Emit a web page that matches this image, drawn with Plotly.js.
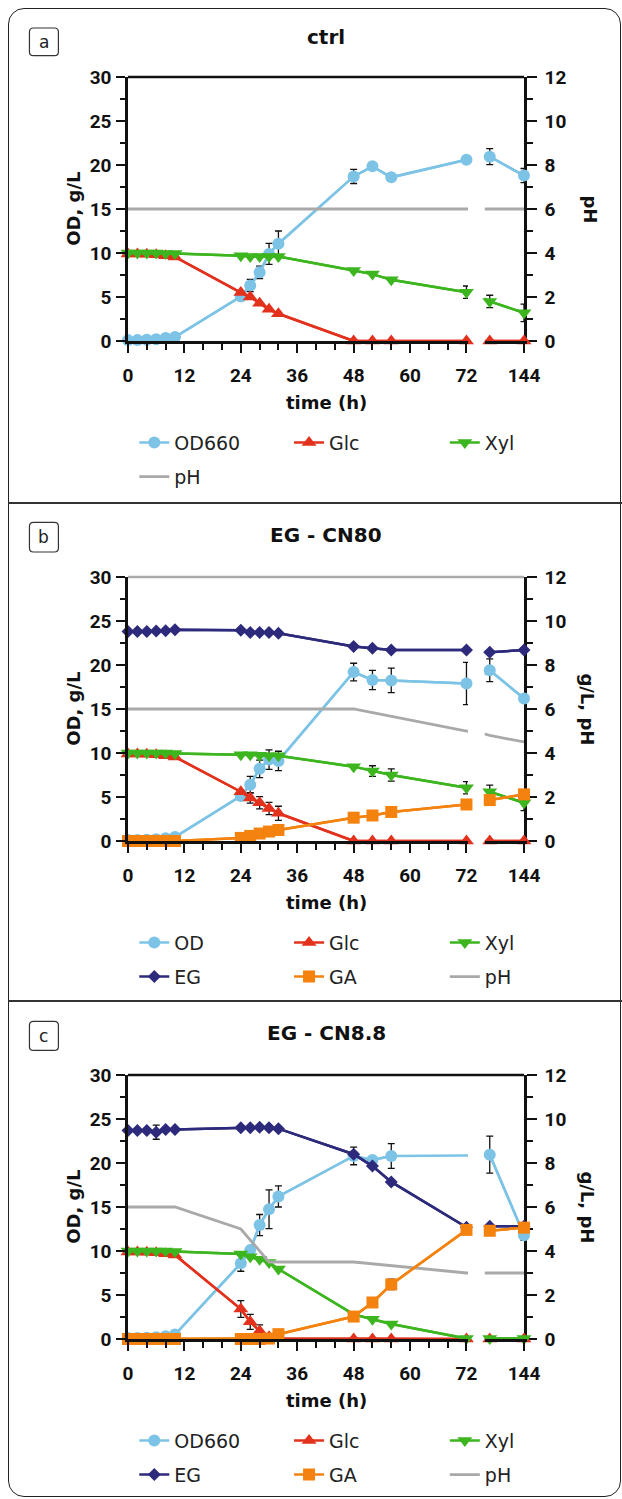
<!DOCTYPE html>
<html><head><meta charset="utf-8">
<script src="https://cdn.plot.ly/plotly-3.0.1.min.js"></script>
<style>
html,body{margin:0;padding:0;background:#fff;}
#wrap{position:relative;width:622px;height:1499px;overflow:hidden;background:#fff;}
.panel{position:absolute;left:0;width:622px;}
.frame{position:absolute;left:8px;top:8px;width:613px;height:1489px;border:1.6px solid #222;border-radius:16px;box-sizing:border-box;pointer-events:none;}
.sep{position:absolute;left:8px;width:614px;height:2px;background:#333;pointer-events:none;}
</style></head><body>
<div id="wrap">
<div id="pa" class="panel" style="top:0px;height:500px"></div>
<div id="pb" class="panel" style="top:500px;height:498px"></div>
<div id="pc" class="panel" style="top:998px;height:501px"></div>
<div class="frame"></div>
<div class="sep" style="top:502px"></div>
<div class="sep" style="top:1000px"></div>
</div>
<script>
// ---------------- DATA ----------------
const time_h    = [0, 2, 4, 6, 8, 10, 24, 26, 28, 30, 32, 48, 52, 56, 72, 96, 144];
const ph_time_h = [0, 10, 24, 30, 48, 72, 96, 144];
const seg1_ticks = [0, 12, 24, 36, 48, 60, 72];
const seg2_ticks = [144];

// panel a : ctrl  (left axis: OD, g/L ; right axis: pH)
const ctrl_OD      = [0.1, 0.1, 0.15, 0.2, 0.35, 0.45, 5.05, 6.3, 7.8, 9.9, 11.05, 18.7, 19.85, 18.6, 20.6, 20.95, 18.8];
const ctrl_OD_err  = [null, null, null, null, null, null, null, 0.7, 0.7, 1.2, 1.45, 0.8, null, null, null, 0.9, 0.8];
const ctrl_Glc     = [9.9, 9.9, 9.85, 9.8, 9.7, 9.55, 5.5, 5.0, 4.3, 3.6, 3.1, 0, 0, 0, 0, 0, 0];
const ctrl_Xyl     = [10, 10, 10, 10, 9.95, 9.95, 9.7, 9.6, 9.6, 9.6, 9.6, 8.0, 7.6, 6.95, 5.55, 4.5, 3.2];
const ctrl_Xyl_err = [null, null, null, null, null, null, null, null, null, null, null, null, null, null, 0.7, 0.7, 1.0];
const ctrl_pH      = [6, 6, 6, 6, 6, 6, 6, 6];

// panel b : EG - CN80  (EG, GA and pH on right axis)
const cn80_OD      = [0.1, 0.1, 0.15, 0.2, 0.3, 0.45, 5.1, 6.4, 8.2, 9.25, 9.1, 19.2, 18.3, 18.25, 17.9, 19.4, 16.2];
const cn80_OD_err  = [null, null, null, null, null, null, null, 0.95, 1.0, 1.1, 1.1, 1.0, 1.1, 1.4, 2.4, 1.3, null];
const cn80_Glc     = [9.9, 9.9, 9.85, 9.8, 9.7, 9.55, 5.6, 4.9, 4.35, 3.7, 3.15, 0, 0, 0, 0, 0, 0];
const cn80_Glc_err = [null, null, null, null, null, null, null, 0.6, 0.7, 0.7, 0.8, null, null, null, null, null, null];
const cn80_Xyl     = [10, 10, 10, 10, 10, 9.95, 9.8, 9.8, 9.75, 9.7, 9.7, 8.45, 7.95, 7.5, 6.05, 5.6, 4.35];
const cn80_Xyl_err = [null, null, null, null, null, null, null, null, null, null, null, null, 0.6, 0.7, 0.7, 0.75, 0.9];
const cn80_EG      = [9.52, 9.52, 9.52, 9.54, 9.56, 9.6, 9.58, 9.48, 9.48, 9.48, 9.44, 8.84, 8.76, 8.68, 8.68, 8.58, 8.68];
const cn80_GA      = [0, 0, 0, 0, 0, 0, 0.14, 0.23, 0.34, 0.43, 0.5, 1.06, 1.16, 1.32, 1.66, 1.86, 2.12];
const cn80_GA_err  = [null, null, null, null, null, null, null, null, null, null, null, null, null, null, null, 0.15, 0.18];
const cn80_pH      = [6, 6, 6, 6, 6, 5.0, 4.8, 4.5];

// panel c : EG - CN8.8
const cn88_OD      = [0.1, 0.1, 0.15, 0.2, 0.3, 0.5, 8.6, 10.1, 12.95, 14.75, 16.2, 20.8, 20.35, 20.8, null, 20.95, 11.8];
const cn88_OD_err  = [null, null, null, null, null, null, 0.9, null, 1.2, 2.2, 1.2, 1.0, null, 1.4, null, 2.1, 0.6];
const cn88_Glc     = [9.9, 9.9, 9.85, 9.8, 9.7, 9.55, 3.4, 1.95, 0.9, 0.25, 0.05, 0, 0, 0, 0, 0, 0];
const cn88_Glc_err = [null, null, null, null, null, null, 0.95, 0.85, 0.7, null, null, null, null, null, null, null, null];
const cn88_Xyl     = [10, 10, 10, 10, 10, 9.95, 9.65, 9.35, 9.05, 8.7, 7.95, 2.8, 2.25, 1.7, 0.05, 0.05, 0.05];
const cn88_EG      = [9.48, 9.48, 9.48, 9.4, 9.52, 9.52, 9.6, 9.6, 9.62, 9.6, 9.56, 8.4, 7.86, 7.14, 5.08, 5.12, 5.12];
const cn88_EG_err  = [null, null, null, 0.32, null, null, null, null, null, null, null, null, null, null, null, null, null];
const cn88_GA      = [0, 0, 0, 0, 0, 0, 0, 0, 0, 0.02, 0.22, 1.02, 1.66, 2.48, 4.96, 4.92, 5.06];
const cn88_GA_err  = [null, null, null, null, null, null, null, null, null, null, null, null, null, 0.24, null, null, null];
const cn88_pH      = [6, 6, 5.0, 3.5, 3.5, 3.0, 3.0, 3.0];

// ---------------- STYLE ----------------
const C = {OD:'#7cc3e6', Glc:'#e2321d', Xyl:'#3db51f', EG:'#2d2a7b', GA:'#f4820f', pH:'#a9a9a9'};
const L = 127.7, T = 77.3, W = 396.6, H = 264;
const px2x = p => (p - L) / W;
const py2y = p => 1 - (p - T) / H;
const SEG1_END = 72.3, SEG2_START = 89;
const d1 = px2x(468.1), d2 = px2x(485);
const LW = 2.5;
const TICKFONT = {family:'Roboto, Arial, sans-serif', size:19, color:'#111', weight:700};
const TITLEFONT = {family:'DejaVu Sans, Arial, sans-serif', size:18, color:'#111', weight:700};
const LEGFONT = {family:'DejaVu Sans, Arial, sans-serif', size:19, color:'#222'};

function segIdx(t, seg){
  const out = [];
  t.forEach((v,i)=>{ if(seg===1 ? v <= 72 : v >= SEG2_START) out.push(i); });
  return out;
}
const pick = (a, idx) => idx.map(i => a[i]);
const nanify = a => a.map(v => v == null ? NaN : v);

function seriesTraces(s){
  const tr = [];
  const yax = s.right ? 'y2' : 'y';
  ['x','x2'].forEach((xa,k)=>{
    tr.push({x:s.t, y:s.v, xaxis:xa, yaxis:yax, type:'scatter', mode:'lines', connectgaps:true,
      line:{color:s.color, width:s.symbol ? LW : 2.8}, hoverinfo:'skip', name:s.name,
      showlegend: (!s.symbol && k===0), legend:s.legend});
  });
  if(s.symbol){
    [1,2].forEach(seg=>{
      const idx = segIdx(s.t, seg);
      const o = {x:pick(s.t,idx), y:pick(s.v,idx), xaxis: seg===1?'x':'x2', yaxis:yax,
        type:'scatter', mode:'lines+markers', name:s.name, connectgaps:true,
        line:{color:s.color, width:LW},
        marker:{symbol:s.symbol, size:s.size, color:s.color, line:{width:0}},
        cliponaxis:false, showlegend: seg===1, legend:s.legend, hoverinfo:'x+y'};
      if(s.err) o.error_y = {type:'data', array:nanify(pick(s.err,idx)), visible:true,
        color:'#111', thickness:1.3, width:3.5};
      tr.push(o);
    });
  }
  return tr;
}

function roundRect(x0,y0,x1,y1,r){
  const X = px2x, Y = py2y;
  return 'M'+X(x0+r)+','+Y(y0)+' L'+X(x1-r)+','+Y(y0)+' Q'+X(x1)+','+Y(y0)+' '+X(x1)+','+Y(y0+r)+
    ' L'+X(x1)+','+Y(y1-r)+' Q'+X(x1)+','+Y(y1)+' '+X(x1-r)+','+Y(y1)+
    ' L'+X(x0+r)+','+Y(y1)+' Q'+X(x0)+','+Y(y1)+' '+X(x0)+','+Y(y1-r)+
    ' L'+X(x0)+','+Y(y0+r)+' Q'+X(x0)+','+Y(y0)+' '+X(x0+r)+','+Y(y0)+' Z';
}

const axBase = {showline:true, linecolor:'#111', linewidth:2.5, ticks:'outside', tickcolor:'#111',
  tickwidth:2.2, showgrid:false, zeroline:false, tickfont:TICKFONT, fixedrange:true};

function legendAt(col, row){
  const cols = [134, 289, 445], rows = [443, 477];
  return {x:px2x(cols[col]), y:py2y(rows[row]), xanchor:'left', yanchor:'middle',
    bgcolor:'rgba(0,0,0,0)', borderwidth:0, font:LEGFONT, itemclick:false, itemdoubleclick:false};
}

function makeLayout(p){
  const lay = {
    width:622, height:p.h,
    margin:{l:L, r:622-L-W, t:T, b:p.h-T-H, pad:0, autoexpand:false},
    paper_bgcolor:'rgba(0,0,0,0)', plot_bgcolor:'rgba(0,0,0,0)',
    showlegend:true, hovermode:'closest',
    xaxis:Object.assign({}, axBase, {domain:[0,d1], range:[0,SEG1_END], tickmode:'array', tickvals:seg1_ticks,
      ticklen:9, anchor:'y', ticklabelstandoff:6,
      minor:{tick0:0, dtick:4, ticks:'outside', ticklen:6, tickwidth:2, tickcolor:'#111', showgrid:false}}),
    xaxis2:Object.assign({}, axBase, {domain:[d2,1], range:[SEG2_START,144], tickmode:'array', tickvals:seg2_ticks,
      ticklen:9, anchor:'y', ticklabelstandoff:6}),
    yaxis:Object.assign({}, axBase, {range:[0,30], tick0:0, dtick:5, ticklen:9, anchor:'x', ticklabelstandoff:1,
      minor:{tick0:0, dtick:2.5, ticks:'outside', ticklen:5, tickwidth:2, tickcolor:'#111', showgrid:false}}),
    yaxis2:Object.assign({}, axBase, {range:[0,12], tick0:0, dtick:2, ticklen:10, anchor:'x2', overlaying:'y', side:'right',
      ticklabelstandoff:4,
      minor:{tick0:0, dtick:1, ticks:'outside', ticklen:6, tickwidth:2, tickcolor:'#111', showgrid:false}}),
    shapes:[
      {type:'line', xref:'paper', yref:'paper', x0:0, x1:1, y0:1, y1:1, line:{color:p.topColor, width:2.5}},
      {type:'path', xref:'paper', yref:'paper', path:roundRect(29, p.box[0], 58, p.box[1], 4), line:{color:'#333', width:1.2}}
    ],
    annotations:[
      {xref:'paper', yref:'paper', x:px2x(326), y:py2y(p.titleY), text:p.title, showarrow:false,
        xanchor:'center', yanchor:'middle', font:{family:'DejaVu Sans, Arial, sans-serif', size:20, color:'#111', weight:700}},
      {xref:'paper', yref:'paper', x:px2x(43.5), y:py2y((p.box[0]+p.box[1])/2), text:p.letter, showarrow:false,
        xanchor:'center', yanchor:'middle', font:{family:'DejaVu Sans, Arial, sans-serif', size:17, color:'#222'}},
      {xref:'paper', yref:'paper', x:px2x(72.4), y:0.5, text:'OD, g/L', textangle:-90, showarrow:false,
        xanchor:'center', yanchor:'middle', font:TITLEFONT},
      {xref:'paper', yref:'paper', x:px2x(p.rightX), y:0.5, text:p.rightTitle, textangle:90, showarrow:false,
        xanchor:'center', yanchor:'middle', font:TITLEFONT},
      {xref:'paper', yref:'paper', x:px2x(326), y:py2y(402.5), text:'time (h)', showarrow:false,
        xanchor:'center', yanchor:'middle', font:TITLEFONT}
    ]
  };
  ['legend','legend2','legend3','legend4','legend5','legend6'].forEach((k,i)=>{
    lay[k] = legendAt(i%3, Math.floor(i/3));
  });
  return lay;
}

function build(p, series){
  let traces = [];
  series.forEach(s => { traces = traces.concat(seriesTraces(s)); });
  Plotly.newPlot(p.id, traces, makeLayout(p), {staticPlot:false, displayModeBar:false, responsive:false});
}

// panel a
build({id:'pa', h:500, title:'ctrl', titleY:37, letter:'a', box:[28.3,56], topColor:'#111', rightTitle:'pH', rightX:591},
[
  {name:'pH', t:ph_time_h, v:ctrl_pH, right:true, color:C.pH, legend:'legend4'},
  {name:'OD660', t:time_h, v:ctrl_OD, err:ctrl_OD_err, color:C.OD, symbol:'circle', size:12, legend:'legend'},
  {name:'Glc', t:time_h, v:ctrl_Glc, color:C.Glc, symbol:'triangle-up', size:13, legend:'legend2'},
  {name:'Xyl', t:time_h, v:ctrl_Xyl, err:ctrl_Xyl_err, color:C.Xyl, symbol:'triangle-down', size:13, legend:'legend3'}
]);

// panel b
build({id:'pb', h:498, title:'EG - CN80', titleY:35, letter:'b', box:[22.7,52.3], topColor:'#aaaaaa', rightTitle:'g/L, pH', rightX:588},
[
  {name:'pH', t:ph_time_h, v:cn80_pH, right:true, color:C.pH, legend:'legend6'},
  {name:'OD', t:time_h, v:cn80_OD, err:cn80_OD_err, color:C.OD, symbol:'circle', size:12, legend:'legend'},
  {name:'Glc', t:time_h, v:cn80_Glc, err:cn80_Glc_err, color:C.Glc, symbol:'triangle-up', size:13, legend:'legend2'},
  {name:'Xyl', t:time_h, v:cn80_Xyl, err:cn80_Xyl_err, color:C.Xyl, symbol:'triangle-down', size:13, legend:'legend3'},
  {name:'EG', t:time_h, v:cn80_EG, right:true, color:C.EG, symbol:'diamond', size:10, legend:'legend4'},
  {name:'GA', t:time_h, v:cn80_GA, err:cn80_GA_err, right:true, color:C.GA, symbol:'square', size:12, legend:'legend5'}
]);

// panel c
build({id:'pc', h:501, title:'EG - CN8.8', titleY:35.3, letter:'c', box:[23.7,52.7], topColor:'#111', rightTitle:'g/L, pH', rightX:588},
[
  {name:'pH', t:ph_time_h, v:cn88_pH, right:true, color:C.pH, legend:'legend6'},
  {name:'OD660', t:time_h, v:cn88_OD, err:cn88_OD_err, color:C.OD, symbol:'circle', size:12, legend:'legend'},
  {name:'Glc', t:time_h, v:cn88_Glc, err:cn88_Glc_err, color:C.Glc, symbol:'triangle-up', size:13, legend:'legend2'},
  {name:'Xyl', t:time_h, v:cn88_Xyl, color:C.Xyl, symbol:'triangle-down', size:13, legend:'legend3'},
  {name:'EG', t:time_h, v:cn88_EG, err:cn88_EG_err, right:true, color:C.EG, symbol:'diamond', size:10, legend:'legend4'},
  {name:'GA', t:time_h, v:cn88_GA, err:cn88_GA_err, right:true, color:C.GA, symbol:'square', size:12, legend:'legend5'}
]);
</script>
</body></html>
